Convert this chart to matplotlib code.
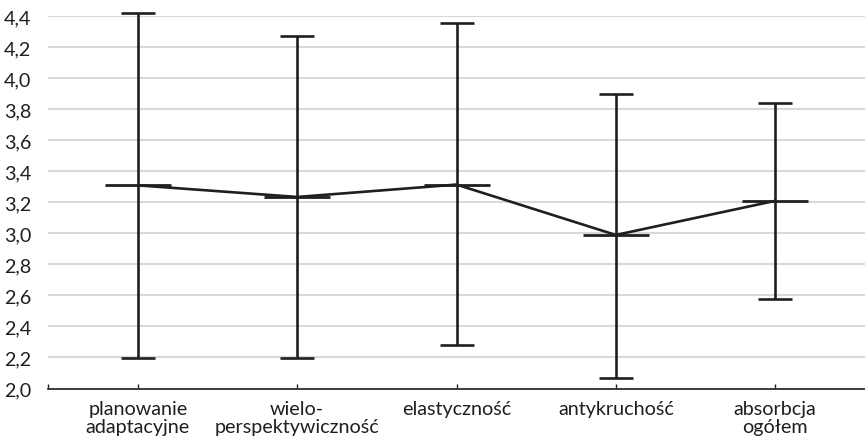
import matplotlib
matplotlib.use("Agg")
import matplotlib.pyplot as plt
import numpy as np

# ---- data ----
categories = ["planowanie\nadaptacyjne", "wielo-\nperspektywiczność",
              "elastyczność", "antykruchość", "absorbcja\nogółem"]
means = [3.31, 3.235, 3.315, 2.99, 3.21]
upper = [4.42, 4.275, 4.355, 3.90, 3.84]
lower = [2.195, 2.195, 2.28, 2.07, 2.58]

yticks = [2.0, 2.2, 2.4, 2.6, 2.8, 3.0, 3.2, 3.4, 3.6, 3.8, 4.0, 4.2, 4.4]

INK = "#1f1f1f"
GRID = "#d9d9d9"

plt.rcParams["font.family"] = ["Lato", "DejaVu Sans"]

fig = plt.figure(figsize=(8.65, 4.39), dpi=100)
ax = fig.add_axes([48 / 865, 1 - 389.5 / 439, 1 - 48 / 865, (389.5 - 17.3) / 439])

x = np.arange(len(categories))
m = np.array(means)
err = [m - np.array(lower), np.array(upper) - m]

ax.set_ylim(2.0, 4.4)
ax.set_xlim(-0.564, 4.564)
ax.set_yticks(yticks)
ax.set_yticklabels([f"{v:.1f}".replace(".", ",") for v in yticks], fontsize=14.2, color=INK)
ax.yaxis.grid(True, color=GRID, lw=1.5, zorder=0)
ax.set_axisbelow(True)

ax.errorbar(x, m, yerr=err, fmt="none", ecolor=INK, elinewidth=1.9,
            capsize=12, capthick=1.9, zorder=3, clip_on=False)
ax.plot(x, m, color=INK, lw=1.9, zorder=4)
ax.plot(x, m, ls="none", marker="_", markersize=47, markeredgewidth=2.0,
        color=INK, zorder=5)

ax.set_xticks(x)
ax.set_xticklabels(categories, fontsize=14.2, color=INK, linespacing=1.1, va="top")
ax.set_xticks([-0.564], minor=True)
ax.tick_params(axis="x", which="both", direction="in", length=3.5, width=1.0,
               color=INK, pad=8)
ax.tick_params(axis="y", length=0, pad=12)

for s in ["top", "right", "left"]:
    ax.spines[s].set_visible(False)
ax.spines["bottom"].set_color(INK)
ax.spines["bottom"].set_linewidth(1.2)

fig.savefig("out.png", dpi=100)
